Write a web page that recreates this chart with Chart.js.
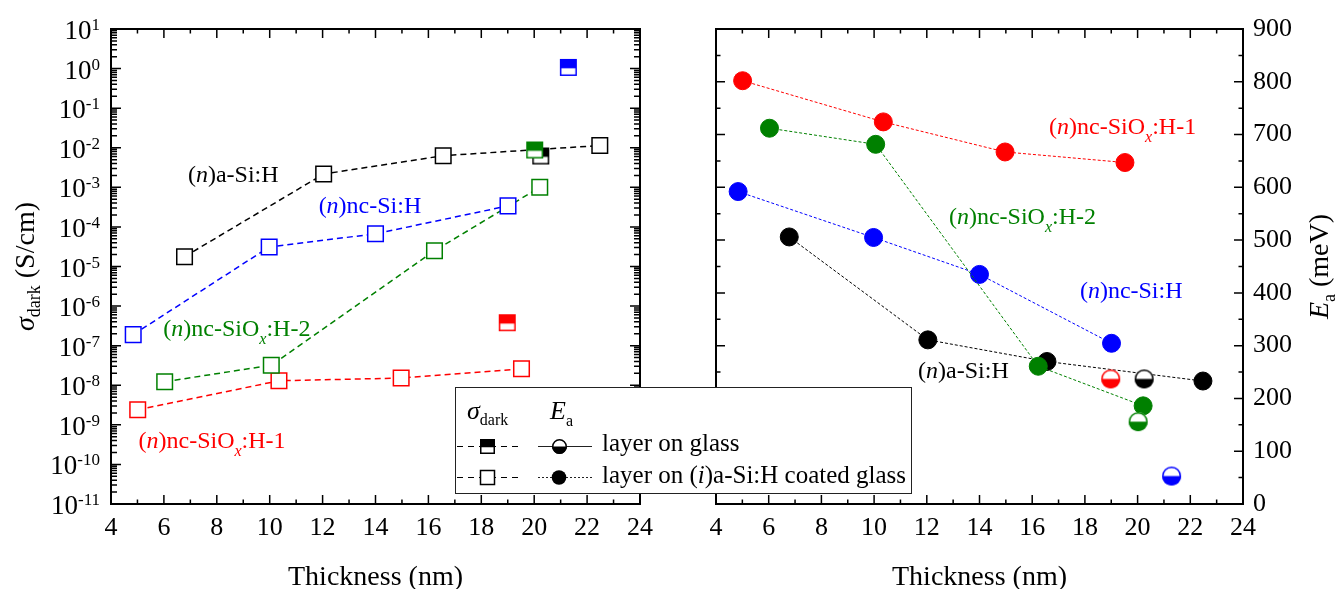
<!DOCTYPE html>
<html>
<head>
<meta charset="utf-8">
<script src="https://cdn.jsdelivr.net/npm/chart.js@4.4.1/dist/chart.umd.min.js"></script>
<style>
  html, body { margin: 0; padding: 0; background: #fff; }
  #wrap { position: relative; width: 1338px; height: 589px; overflow: hidden; }
  #wrap canvas { position: absolute; left: 0; top: 0; }
</style>
</head>
<body>
<div id="wrap">
  <canvas id="sigmaChart" width="1338" height="589"></canvas>
  <canvas id="eaChart" width="1338" height="589"></canvas>
</div>
<script>
const FONT = "'Liberation Serif', 'Times New Roman', serif";

// ---- layer thickness (nm), layers grown on (i)a-Si:H coated glass ----
const thickASi   = [6.78, 12.04, 16.56, 22.48];
const thickNcSi  = [4.84, 9.98, 14.0, 19.01];
const thickSiOx1 = [5.01, 10.35, 14.97, 19.52];
const thickSiOx2 = [6.03, 10.06, 16.23, 20.21];

// ---- dark conductivity (S/cm) ----
const sigmaASi   = [1.77e-5, 2.17e-3, 6.3e-3, 1.14e-2];
const sigmaNcSi  = [1.9e-7, 3.1e-5, 6.7e-5, 3.4e-4];
const sigmaSiOx1 = [2.4e-9, 1.3e-8, 1.52e-8, 2.6e-8];
const sigmaSiOx2 = [1.23e-8, 3.2e-8, 2.5e-5, 1.0e-3];

// ---- activation energy (meV) ----
const eaASi   = [506, 311, 270, 233];
const eaNcSi  = [592, 505, 435, 304.5];
const eaSiOx1 = [802, 724, 667, 647];
const eaSiOx2 = [712, 681.5, 261, 186];

// ---- single layers deposited directly on glass (a-Si:H, nc-Si:H, nc-SiOx:H-1, nc-SiOx:H-2) ----
const glassThick = [20.25, 21.29, 18.98, 20.02];
const glassSigma = [6.2e-3, 1.07, 3.8e-7, 8.8e-3];
const glassEa    = [237, 53, 237, 156];

// ---- series colours (a-Si:H, nc-Si:H, nc-SiOx:H-1, nc-SiOx:H-2) ----
const seriesColors = ['#000000', '#0000ff', '#ff0000', '#008000'];

// ---- axis ticks ----
const thicknessTicks = [4, 6, 8, 10, 12, 14, 16, 18, 20, 22, 24];
const sigmaDecades = [-11, -10, -9, -8, -7, -6, -5, -4, -3, -2, -1, 0, 1];
const eaTicks = [0, 100, 200, 300, 400, 500, 600, 700, 800, 900];

const pts = (xs, ys) => xs.map((x, i) => ({ x, y: ys[i] }));

// ---- marker sprites for the half-filled "on glass" symbols ----
function halfSquare(color, side) {
  const n = Math.ceil(side) + 2, c = document.createElement('canvas');
  c.width = c.height = n;
  const g = c.getContext('2d'), o = (n - side) / 2;
  g.fillStyle = '#fff'; g.fillRect(o, o, side, side);
  g.fillStyle = color; g.fillRect(o, o, side, side * 0.55);
  g.strokeStyle = color; g.lineWidth = 1.5;
  g.strokeRect(o + 0.75, o + 0.75, side - 1.5, side - 1.5);
  return c;
}
function halfCircle(color, d) {
  const n = Math.ceil(d) + 2, c = document.createElement('canvas');
  c.width = c.height = n;
  const g = c.getContext('2d'), m = n / 2, r = d / 2;
  g.fillStyle = '#fff'; g.beginPath(); g.arc(m, m, r, 0, Math.PI * 2); g.fill();
  g.fillStyle = color; g.beginPath(); g.arc(m, m, r, 0, Math.PI); g.closePath(); g.fill();
  g.strokeStyle = color; g.lineWidth = 1.5;
  g.beginPath(); g.arc(m, m, r - 0.75, 0, Math.PI * 2); g.stroke();
  return c;
}

// ---- rich text (italic / subscript runs) ----
function runWidth(ctx, parts, size) {
  let w = 0;
  for (const p of parts) {
    ctx.font = (p.i ? 'italic ' : '') + (p.sub ? p.sub : size) + 'px ' + FONT;
    w += ctx.measureText(p.t).width;
  }
  return w;
}
function drawRun(ctx, x, y, parts, size, color) {
  ctx.fillStyle = color;
  ctx.textAlign = 'left';
  ctx.textBaseline = 'alphabetic';
  let cx = x;
  for (const p of parts) {
    ctx.font = (p.i ? 'italic ' : '') + (p.sub ? p.sub : size) + 'px ' + FONT;
    ctx.fillText(p.t, cx, y + (p.dy || 0));
    cx += ctx.measureText(p.t).width;
  }
}

const nameASi   = [{ t: '(' }, { t: 'n', i: 1 }, { t: ')a-Si:H' }];
const nameNcSi  = [{ t: '(' }, { t: 'n', i: 1 }, { t: ')nc-Si:H' }];
const nameSiOx1 = [{ t: '(' }, { t: 'n', i: 1 }, { t: ')nc-SiO' }, { t: 'x', i: 1, sub: 16, dy: 8 }, { t: ':H-1' }];
const nameSiOx2 = [{ t: '(' }, { t: 'n', i: 1 }, { t: ')nc-SiO' }, { t: 'x', i: 1, sub: 16, dy: 8 }, { t: ':H-2' }];

// ---- frame with inward ticks on all four sides ----
function frameTicks(chart, yMajor, yMinor, yMajLen, yMinLen) {
  const { ctx, chartArea: a, scales } = chart;
  const sx = scales.x, sy = scales.y;
  ctx.save();
  ctx.strokeStyle = '#000';
  ctx.lineWidth = 1.5;
  ctx.beginPath();
  const xMinor = thicknessTicks.slice(0, -1).map(v => v + 1);
  for (const [list, len] of [[thicknessTicks, 9], [xMinor, 4.5]]) {
    for (const v of list) {
      const px = sx.getPixelForValue(v);
      ctx.moveTo(px, a.bottom); ctx.lineTo(px, a.bottom - len);
      ctx.moveTo(px, a.top); ctx.lineTo(px, a.top + len);
    }
  }
  for (const [list, len] of [[yMajor, yMajLen], [yMinor, yMinLen]]) {
    for (const v of list) {
      const py = sy.getPixelForValue(v);
      ctx.moveTo(a.left, py); ctx.lineTo(a.left + len, py);
      ctx.moveTo(a.right, py); ctx.lineTo(a.right - len, py);
    }
  }
  ctx.stroke();
  ctx.lineWidth = 2;
  ctx.strokeRect(a.left, a.top, a.right - a.left, a.bottom - a.top);
  ctx.restore();
}

function rotatedTitle(ctx, baseX, centerY, parts, size) {
  ctx.save();
  ctx.translate(baseX, centerY);
  ctx.rotate(-Math.PI / 2);
  const w = runWidth(ctx, parts, size);
  drawRun(ctx, -w / 2, 0, parts, size, '#000');
  ctx.restore();
}

// ======================= conductivity panel =======================
const sigmaDecor = {
  id: 'sigmaDecor',
  afterDraw(chart) {
    const { ctx, chartArea: a, scales } = chart;
    const sy = scales.y, sx = scales.x;
    const majors = sigmaDecades.map(e => Math.pow(10, e));
    const minors = [];
    sigmaDecades.slice(0, -1).forEach(e => { for (let m = 2; m <= 9; m++) minors.push(m * Math.pow(10, e)); });
    frameTicks(chart, majors, minors, 10, 6);

    // decade labels 10^n
    ctx.save();
    ctx.fillStyle = '#000';
    ctx.textAlign = 'right';
    ctx.textBaseline = 'alphabetic';
    const right = a.left - 11;
    for (const e of sigmaDecades) {
      const py = sy.getPixelForValue(Math.pow(10, e));
      const es = String(e);
      ctx.font = '17px ' + FONT;
      const ew = ctx.measureText(es).width;
      ctx.fillText(es, right, py + 1);
      ctx.font = '27px ' + FONT;
      ctx.fillText('10', right - ew, py + 10);
    }
    ctx.restore();

    // axis title
    rotatedTitle(ctx, 34, (a.top + a.bottom) / 2,
      [{ t: 'σ', i: 1 }, { t: 'dark', sub: 18, dy: 6 }, { t: ' (S/cm)' }], 28);

    // series names
    const notes = [
      [nameASi, 6.91, 1.36e-3, seriesColors[0]],
      [nameNcSi, 11.85, 2.24e-4, seriesColors[1]],
      [nameSiOx2, 5.98, 1.75e-7, seriesColors[3]],
      [nameSiOx1, 5.04, 2.6e-10, seriesColors[2]]
    ];
    for (const [parts, x, y, c] of notes) {
      drawRun(ctx, sx.getPixelForValue(x), sy.getPixelForValue(y), parts, 24, c);
    }
  }
};

function coatedSigma(xs, ys, color, order) {
  return {
    data: pts(xs, ys), showLine: true, order,
    borderColor: color, borderWidth: 1.5, borderDash: [6, 4],
    pointStyle: 'rect', pointRadius: 11, pointBorderWidth: 1.5,
    pointBorderColor: color, pointBackgroundColor: '#fff'
  };
}
function glassPoint(i, yArr, sprite, order) {
  return {
    data: [{ x: glassThick[i], y: yArr[i] }], showLine: false, order,
    pointStyle: sprite, pointRadius: 9, borderWidth: 0
  };
}

const xScale = (h) => ({
  type: 'linear', min: 4, max: 24,
  afterBuildTicks: s => { s.ticks = thicknessTicks.map(v => ({ value: v })); },
  ticks: { font: { family: FONT, size: 26 }, color: '#000', padding: 9, maxRotation: 0, autoSkip: false },
  grid: { display: false, drawTicks: false },
  border: { display: false },
  title: { display: true, text: 'Thickness (nm)', color: '#000',
           font: { family: FONT, size: 28, lineHeight: 0.8 }, padding: { top: 0, bottom: 0 } },
  afterFit: s => { s.height = h; }
});

new Chart(document.getElementById('sigmaChart'), {
  type: 'scatter',
  data: {
    datasets: [
      glassPoint(3, glassSigma, halfSquare(seriesColors[3], 17), 0),
      glassPoint(0, glassSigma, halfSquare(seriesColors[0], 17), 1),
      glassPoint(1, glassSigma, halfSquare(seriesColors[1], 17), 1),
      glassPoint(2, glassSigma, halfSquare(seriesColors[2], 17), 1),
      coatedSigma(thickASi, sigmaASi, seriesColors[0], 2),
      coatedSigma(thickNcSi, sigmaNcSi, seriesColors[1], 3),
      coatedSigma(thickSiOx2, sigmaSiOx2, seriesColors[3], 4),
      coatedSigma(thickSiOx1, sigmaSiOx1, seriesColors[2], 5)
    ]
  },
  options: {
    responsive: false, animation: false, devicePixelRatio: 1, events: [],
    layout: { padding: { left: 0, top: 29, right: 1338 - 640, bottom: 0 } },
    plugins: { legend: { display: false }, tooltip: { enabled: false } },
    scales: {
      x: xScale(85),
      y: {
        type: 'logarithmic', min: 1e-11, max: 10,
        ticks: { display: false },
        grid: { display: false, drawTicks: false },
        border: { display: false },
        afterFit: s => { s.width = 111; }
      }
    }
  },
  plugins: [sigmaDecor]
});

// ======================= activation energy panel =======================
const eaDecor = {
  id: 'eaDecor',
  afterDraw(chart) {
    const { ctx, chartArea: a, scales } = chart;
    const sx = scales.x, sy = scales.y;
    const minors = eaTicks.slice(0, -1).map(v => v + 50);
    frameTicks(chart, eaTicks, minors, 9, 4.5);

    rotatedTitle(ctx, 1328, (a.top + a.bottom) / 2,
      [{ t: 'E', i: 1 }, { t: 'a', sub: 18, dy: 7 }, { t: ' (meV)' }], 28);

    const notes = [
      [nameSiOx1, 16.64, 701, seriesColors[2]],
      [nameSiOx2, 12.84, 530.5, seriesColors[3]],
      [nameNcSi, 17.81, 390, seriesColors[1]],
      [nameASi, 11.67, 239, seriesColors[0]]
    ];
    for (const [parts, x, y, c] of notes) {
      drawRun(ctx, sx.getPixelForValue(x), sy.getPixelForValue(y), parts, 24, c);
    }

    // key box
    ctx.save();
    const L = 455, T = 387, W = 456, H = 106;
    ctx.fillStyle = '#fff';
    ctx.fillRect(L, T, W, H);
    ctx.strokeStyle = '#222';
    ctx.lineWidth = 1;
    ctx.strokeRect(L + 0.5, T + 0.5, W, H);

    drawRun(ctx, 467, 419, [{ t: 'σ', i: 1 }, { t: 'dark', sub: 16, dy: 6 }], 26, '#000');
    drawRun(ctx, 550, 419, [{ t: 'E', i: 1 }, { t: 'a', sub: 16, dy: 7 }], 26, '#000');

    const rows = [446.5, 477.5];
    ctx.strokeStyle = '#000';
    ctx.lineWidth = 1;
    for (const ry of rows) {
      ctx.setLineDash([6, 5]);
      ctx.beginPath(); ctx.moveTo(457, ry); ctx.lineTo(518, ry); ctx.stroke();
    }
    ctx.setLineDash([]);
    ctx.strokeStyle = '#222';
    ctx.beginPath(); ctx.moveTo(538, rows[0]); ctx.lineTo(592, rows[0]); ctx.stroke();
    ctx.setLineDash([2, 2]);
    ctx.beginPath(); ctx.moveTo(538, rows[1]); ctx.lineTo(592, rows[1]); ctx.stroke();
    ctx.setLineDash([]);

    const sq = halfSquare('#000', 15), ci = halfCircle('#000', 15);
    ctx.drawImage(sq, Math.round(487.5 - sq.width / 2), Math.round(rows[0] - sq.height / 2));
    ctx.drawImage(ci, Math.round(559 - ci.width / 2), Math.round(rows[0] - ci.height / 2));
    ctx.fillStyle = '#fff';
    ctx.fillRect(480.5, rows[1] - 7, 14, 14);
    ctx.strokeStyle = '#000'; ctx.lineWidth = 1.5;
    ctx.strokeRect(480.5, rows[1] - 7, 14, 14);
    ctx.fillStyle = '#000';
    ctx.beginPath(); ctx.arc(559, rows[1], 7.3, 0, Math.PI * 2); ctx.fill();

    drawRun(ctx, 602, 451, [{ t: 'layer on glass' }], 25, '#000');
    drawRun(ctx, 602, 483, [{ t: 'layer on (' }, { t: 'i', i: 1 }, { t: ')a-Si:H coated glass' }], 25, '#000');
    ctx.restore();
  }
};

function coatedEa(xs, ys, color, order) {
  return {
    data: pts(xs, ys), showLine: true, order,
    borderColor: color, borderWidth: 1, borderDash: [3, 2],
    pointStyle: 'circle', pointRadius: 9, pointBorderWidth: 1,
    pointBorderColor: color, pointBackgroundColor: color
  };
}

new Chart(document.getElementById('eaChart'), {
  type: 'scatter',
  data: {
    datasets: [
      glassPoint(3, glassEa, halfCircle(seriesColors[3], 19), 0),
      glassPoint(0, glassEa, halfCircle(seriesColors[0], 19), 1),
      glassPoint(1, glassEa, halfCircle(seriesColors[1], 19), 1),
      glassPoint(2, glassEa, halfCircle(seriesColors[2], 19), 1),
      coatedEa(thickSiOx2, eaSiOx2, seriesColors[3], 2),
      coatedEa(thickASi, eaASi, seriesColors[0], 3),
      coatedEa(thickNcSi, eaNcSi, seriesColors[1], 4),
      coatedEa(thickSiOx1, eaSiOx1, seriesColors[2], 5)
    ]
  },
  options: {
    responsive: false, animation: false, devicePixelRatio: 1, events: [],
    layout: { padding: { left: 716, top: 29, right: 0, bottom: 0 } },
    plugins: { legend: { display: false }, tooltip: { enabled: false } },
    scales: {
      x: xScale(85),
      y: {
        type: 'linear', position: 'right', min: 0, max: 900,
        afterBuildTicks: s => { s.ticks = eaTicks.map(v => ({ value: v })); },
        ticks: { font: { family: FONT, size: 26 }, color: '#000', padding: 10 },
        grid: { display: false, drawTicks: false },
        border: { display: false },
        afterFit: s => { s.width = 95; }
      }
    }
  },
  plugins: [eaDecor]
});
</script>
</body>
</html>
